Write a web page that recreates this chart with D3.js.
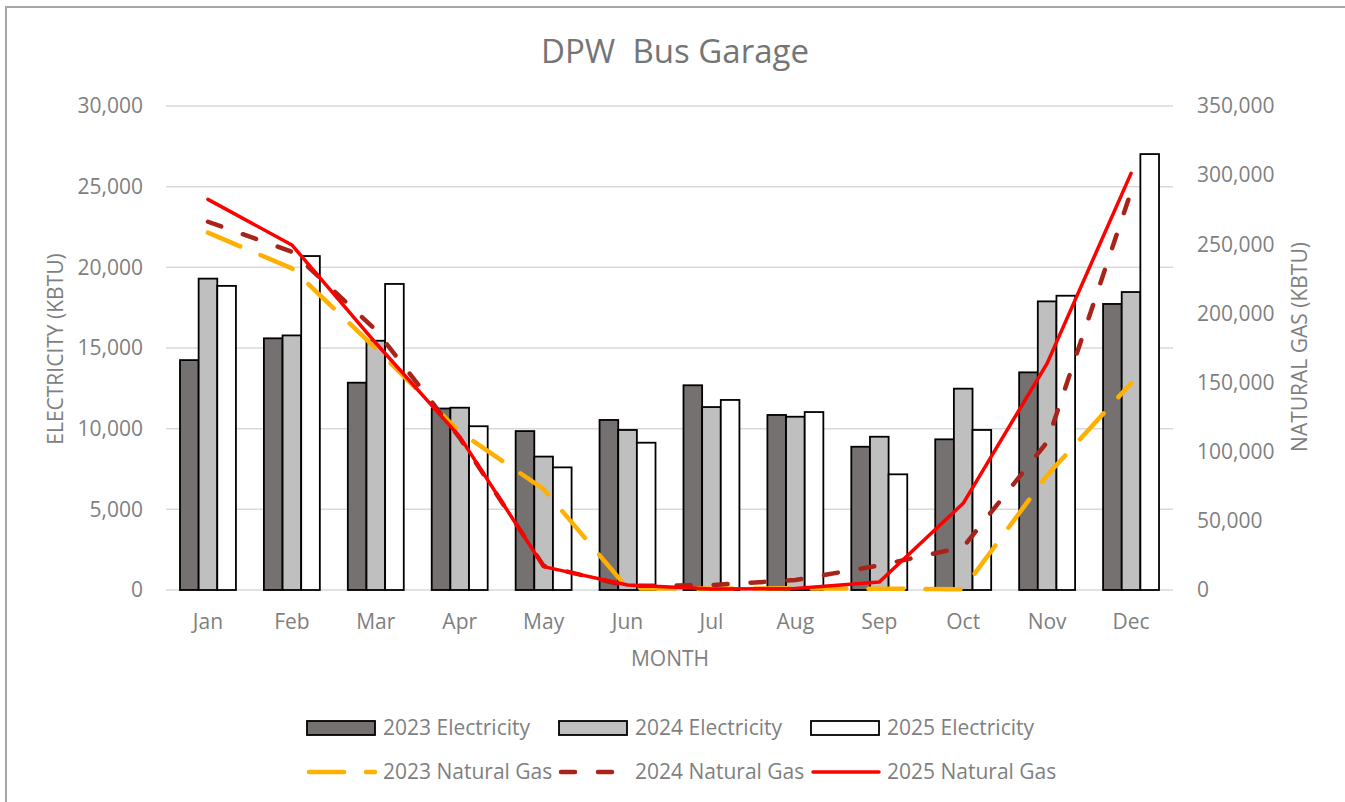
<!DOCTYPE html>
<html>
<head>
<meta charset="utf-8">
<script src="https://cdn.jsdelivr.net/npm/d3@7"></script>
<style>
  body { margin: 0; background: #fff; }
  svg text { font-family: "Open Sans", "Noto Sans", sans-serif; white-space: pre; }
</style>
</head>
<body>
<div id="chart"></div>
<script>
const months = ["Jan", "Feb", "Mar", "Apr", "May", "Jun", "Jul", "Aug", "Sep", "Oct", "Nov", "Dec"];

const elec2023 = [14250, 15600, 12850, 11250, 9850, 10540, 12690, 10850, 8880, 9340, 13490, 17730];
const elec2024 = [19300, 15780, 15450, 11300, 8270, 9920, 11340, 10740, 9500, 12480, 17890, 18470];
const elec2025 = [18850, 20700, 18970, 10150, 7600, 9130, 11780, 11030, 7170, 9920, 18240, 27020];

const gas2023 = [258400, 232600, 174700, 114300, 73000, 1200, 1000, 1200, 900, 600, 83000, 149500];
const gas2024 = [266300, 244600, 188000, 110000, 17400, 2900, 3600, 7200, 17800, 31000, 107000, 288000];
const gas2025 = [282500, 249500, 178600, 110900, 16900, 3600, 700, 1000, 5800, 62700, 163900, 301300];

const elecTicks = [0, 5000, 10000, 15000, 20000, 25000, 30000];
const gasTicks = [0, 50000, 100000, 150000, 200000, 250000, 300000, 350000];

const barSeries = [
    {name: "2023 Electricity", values: elec2023, fill: "#767171"},
    {name: "2024 Electricity", values: elec2024, fill: "#bfbfbf"},
    {name: "2025 Electricity", values: elec2025, fill: "#ffffff"}
];
const lineSeries = [
    {name: "2023 Natural Gas", values: gas2023, color: "#ffb000", dash: "35 22", width: 4.5},
    {name: "2024 Natural Gas", values: gas2024, color: "#a8231a", dash: "14 23", width: 4.5},
    {name: "2025 Natural Gas", values: gas2025, color: "#ff0000", dash: null, width: 3.5}
];

const width = 1345, height = 802;
const plot = {left: 166, right: 1173, top: 106, bottom: 590};
const textColor = "#7f7f7f";

const svg = d3.select("#chart").append("svg")
    .attr("width", width)
    .attr("height", height);

// frame of the chart object (only top and left edges are in view)
svg.append("path")
    .attr("d", `M6,${height} V7 H${width}`)
    .attr("fill", "none")
    .attr("stroke", "#a6a6a6")
    .attr("stroke-width", 2);

svg.append("text")
    .attr("x", 675)
    .attr("y", 63)
    .attr("text-anchor", "middle")
    .attr("font-size", 33)
    .attr("fill", "#757575")
    .text("DPW  Bus Garage");

const x = d3.scaleBand()
    .domain(months)
    .range([plot.left, plot.right])
    .paddingInner(1 / 3)
    .paddingOuter(1 / 6);

const xSub = d3.scaleBand()
    .domain(barSeries.map(d => d.name))
    .range([0, x.bandwidth()]);

const yL = d3.scaleLinear().domain([0, 30000]).range([plot.bottom, plot.top]);
const yR = d3.scaleLinear().domain([0, 350000]).range([plot.bottom, plot.top]);

// gridlines
svg.append("g")
    .selectAll("line")
    .data(elecTicks)
    .enter()
    .append("line")
    .attr("x1", plot.left)
    .attr("x2", plot.right)
    .attr("y1", d => yL(d))
    .attr("y2", d => yL(d))
    .attr("stroke", "#d9d9d9")
    .attr("stroke-width", 1.5);

// left axis
const axL = svg.append("g")
    .attr("transform", `translate(${plot.left - 23},0)`)
    .call(d3.axisLeft(yL).tickValues(elecTicks).tickFormat(d3.format(",")).tickSize(0).tickPadding(0));
axL.select(".domain").remove();
axL.selectAll("text")
    .attr("font-size", 21)
    .attr("fill", textColor)
    .attr("font-family", null);

// right axis
const axR = svg.append("g")
    .attr("transform", `translate(${plot.right + 24},0)`)
    .call(d3.axisRight(yR).tickValues(gasTicks).tickFormat(d3.format(",")).tickSize(0).tickPadding(0));
axR.select(".domain").remove();
axR.selectAll("text")
    .attr("font-size", 21)
    .attr("fill", textColor)
    .attr("font-family", null);

// bottom axis labels
const axB = svg.append("g")
    .attr("transform", `translate(0,${plot.bottom})`)
    .call(d3.axisBottom(x).tickSize(0).tickPadding(24));
axB.select(".domain").remove();
axB.selectAll("text")
    .attr("font-size", 21)
    .attr("fill", textColor)
    .attr("font-family", null);

// axis titles
svg.append("text")
    .attr("transform", "translate(63,349) rotate(-90)")
    .attr("text-anchor", "middle")
    .attr("font-size", 21)
    .attr("fill", textColor)
    .text("ELECTRICITY (KBTU)");

svg.append("text")
    .attr("transform", "translate(1307,347) rotate(-90)")
    .attr("text-anchor", "middle")
    .attr("font-size", 21)
    .attr("fill", textColor)
    .text("NATURAL GAS (KBTU)");

svg.append("text")
    .attr("x", 670)
    .attr("y", 666)
    .attr("text-anchor", "middle")
    .attr("font-size", 21)
    .attr("fill", textColor)
    .text("MONTH");

// bars
barSeries.forEach(s => {
    svg.append("g")
        .selectAll("rect")
        .data(s.values)
        .enter()
        .append("rect")
        .attr("x", (d, i) => x(months[i]) + xSub(s.name))
        .attr("y", d => yL(d))
        .attr("width", xSub.bandwidth())
        .attr("height", d => yL(0) - yL(d))
        .attr("fill", s.fill)
        .attr("stroke", "#000")
        .attr("stroke-width", 1.8);
});

// natural gas lines
const line = d3.line()
    .x((d, i) => x(months[i]) + x.bandwidth() / 2)
    .y(d => yR(d));

lineSeries.forEach(s => {
    svg.append("path")
        .datum(s.values)
        .attr("d", line)
        .attr("fill", "none")
        .attr("stroke", s.color)
        .attr("stroke-width", s.width)
        .attr("stroke-linecap", "round")
        .attr("stroke-linejoin", "round")
        .attr("stroke-dasharray", s.dash);
});

// legend
const legendX = [307, 559, 811];
const legendRows = [728, 772];

barSeries.forEach((s, i) => {
    const g = svg.append("g").attr("transform", `translate(${legendX[i]},${legendRows[0]})`);
    g.append("rect")
        .attr("x", 0)
        .attr("y", -7)
        .attr("width", 68)
        .attr("height", 14)
        .attr("fill", s.fill)
        .attr("stroke", "#000")
        .attr("stroke-width", 1.8);
    g.append("text")
        .attr("x", 76)
        .attr("y", 0)
        .attr("dy", "0.35em")
        .attr("font-size", 21)
        .attr("fill", textColor)
        .text(s.name);
});

lineSeries.forEach((s, i) => {
    const g = svg.append("g").attr("transform", `translate(${legendX[i]},${legendRows[1]})`);
    g.append("line")
        .attr("x1", 2)
        .attr("x2", 68)
        .attr("y1", 0)
        .attr("y2", 0)
        .attr("stroke", s.color)
        .attr("stroke-width", s.width)
        .attr("stroke-linecap", "round")
        .attr("stroke-dasharray", s.dash);
    g.append("text")
        .attr("x", 76)
        .attr("y", 0)
        .attr("dy", "0.35em")
        .attr("font-size", 21)
        .attr("fill", textColor)
        .text(s.name);
});
</script>
</body>
</html>
